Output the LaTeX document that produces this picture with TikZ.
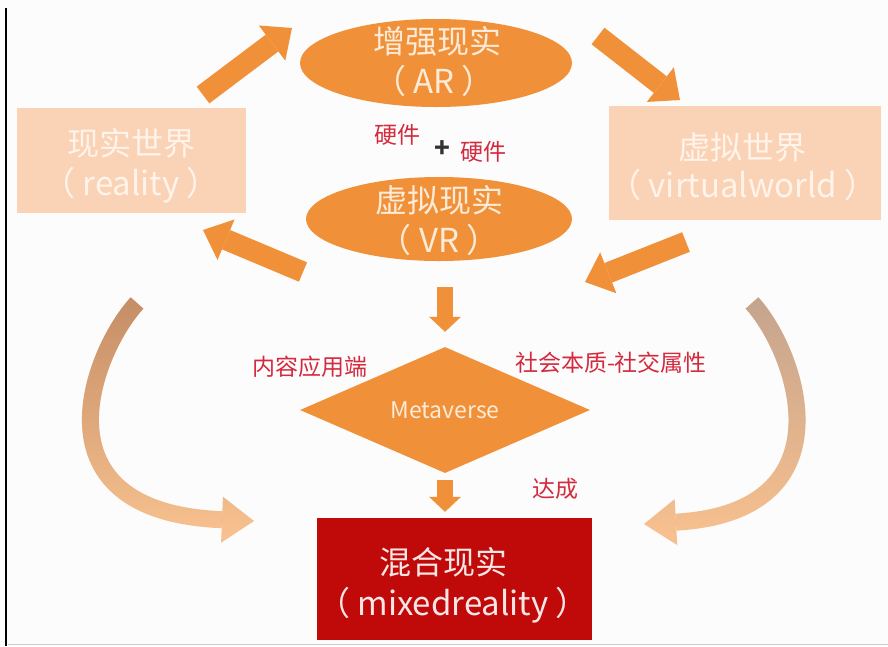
\documentclass[tikz,border=0pt]{standalone}
\usepackage{fontspec}
\setmainfont{Noto Sans CJK SC}
\usetikzlibrary{shapes.geometric,arrows.meta,fadings}
\definecolor{org}{HTML}{F0913A}
\definecolor{peach}{HTML}{FAD3B6}
\definecolor{boxtxt}{HTML}{FFF3EA}
\definecolor{elltxt}{HTML}{FDEBD8}
\definecolor{mred}{HTML}{C00A0A}
\definecolor{redtxt}{HTML}{FBE6E6}
\definecolor{lblred}{HTML}{D42A3E}
\definecolor{curvebot}{HTML}{F7C08E}
\definecolor{curvetopL}{HTML}{C48D66}
\definecolor{curvetopR}{HTML}{C4A48E}
\definecolor{bg}{HTML}{FCFCFC}
\tikzfading[name=fadedown, top color=transparent!0, bottom color=transparent!100]
\begin{document}
\begin{tikzpicture}[x=1pt,y=-1pt,
  ovalbox/.style={ellipse, fill=org, draw=none, inner sep=0pt},
  peachbox/.style={rectangle, fill=peach, draw=none, inner sep=0pt},
  redbox/.style={rectangle, fill=mred, draw=none, inner sep=0pt},
  cjktxt/.style={inner sep=0pt, font=\fontsize{32}{38}\selectfont},
  lattxt/.style={inner sep=0pt, font=\fontsize{33}{38}\selectfont},
  lbl/.style={text=lblred, inner sep=0pt, font=\fontsize{23}{28}\selectfont},
  fatarrow/.style={draw=org, line width=21pt, -{Triangle[width=44pt,length=25pt,line width=0pt]}},
  downarrow/.style={draw=org, line width=16pt, -{Triangle[width=32pt,length=15pt,line width=0pt]}},
  curvearrow/.style={line width=17pt, -{Triangle[width=46pt,length=32pt,line width=0pt]}},
]
\useasboundingbox (0,0) rectangle (888,646);
\fill[bg] (0,0) rectangle (888,646);
\draw[line width=2.5pt, black] (6,8) -- (6,646);
\draw[line width=1pt, black!20] (8,644) -- (888,644);

% main shapes
\node[ovalbox, minimum width=272pt, minimum height=88pt] (ar) at (436,63) {};
\node[ovalbox, minimum width=266pt, minimum height=84pt] (vr) at (439,219) {};
\node[peachbox, minimum width=229pt, minimum height=105pt] (real) at (131.5,160.5) {};
\node[peachbox, minimum width=272pt, minimum height=114pt] (virt) at (745,163) {};
\node[diamond, fill=org, draw=none, inner sep=0pt, aspect=2.3, minimum width=290pt, minimum height=126pt] (meta) at (445,410) {};
\node[redbox, minimum width=275pt, minimum height=122pt] (mixed) at (454.5,579) {};

% texts in shapes
\node[cjktxt, text=elltxt] (ar1) at (437,41) {增强现实};
\node[lattxt, text=elltxt] (ar2) at (434,81) {（ AR ）};
\node[cjktxt, text=elltxt] (vr1) at (439,200) {虚拟现实};
\node[lattxt, text=elltxt] (vr2) at (439,240) {（ VR ）};
\node[cjktxt, text=boxtxt] (real1) at (131,143) {现实世界};
\node[lattxt, text=boxtxt] (real2) at (131,185) {（ reality ）};
\node[cjktxt, text=boxtxt] (virt1) at (742,147) {虚拟世界};
\node[lattxt, text=boxtxt] (virt2) at (743,185) {（ virtualworld ）};
\node[text=elltxt, inner sep=0pt, font=\fontsize{23}{26}\selectfont] (metatxt) at (445,410) {Metaverse};
\node[cjktxt, text=redtxt] (mixed1) at (443,562) {混合现实};
\node[lattxt, text=redtxt] (mixed2) at (453,605) {（ mixedreality ）};

% labels
\node[lbl] (hw1) at (397,135) {硬件};
\node[inner sep=0pt, text=black!80, font=\fontsize{26}{28}\selectfont\bfseries] (plus) at (442,149) {+};
\node[lbl] (hw2) at (483,152) {硬件};
\node[lbl] (content) at (310,367) {内容应用端};
\node[lbl] (social) at (611,363) {社会本质-社交属性};
\node[lbl] (reach) at (555,489) {达成};

% fat arrows
\coordinate (a1s) at (203,95);  \coordinate (a1e) at (292,28);
\coordinate (a2s) at (598,36);  \coordinate (a2e) at (680,100);
\coordinate (a3s) at (303,272); \coordinate (a3e) at (203,230);
\coordinate (a4s) at (686,242); \coordinate (a4e) at (585,282);
\draw[fatarrow] (a1s) -- (a1e);
\draw[fatarrow] (a2s) -- (a2e);
\draw[fatarrow] (a3s) -- (a3e);
\draw[fatarrow] (a4s) -- (a4e);

% down arrows
\draw[downarrow, shorten <=26pt, shorten >=15pt] (meta.north |- vr.south) -- (meta.north);
\draw[downarrow, shorten <=7pt, shorten >=6pt] (meta.south) -- (meta.south |- mixed.north);

% curved arrows
\coordinate (ls) at (137,303); \coordinate (le) at (254,521);
\coordinate (rs) at (752,303); \coordinate (re) at (644,524);
\draw[curvearrow, draw=curvebot] (ls) .. controls (92,352) and (30,512) .. (le);
\draw[curvearrow, draw=curvetopL, path fading=fadedown, fit fading=true] (ls) .. controls (92,352) and (30,512) .. (le);
\draw[curvearrow, draw=curvebot] (rs) .. controls (797,352) and (852,512) .. (re);
\draw[curvearrow, draw=curvetopR, path fading=fadedown, fit fading=true] (rs) .. controls (797,352) and (852,512) .. (re);
\end{tikzpicture}
\end{document}
